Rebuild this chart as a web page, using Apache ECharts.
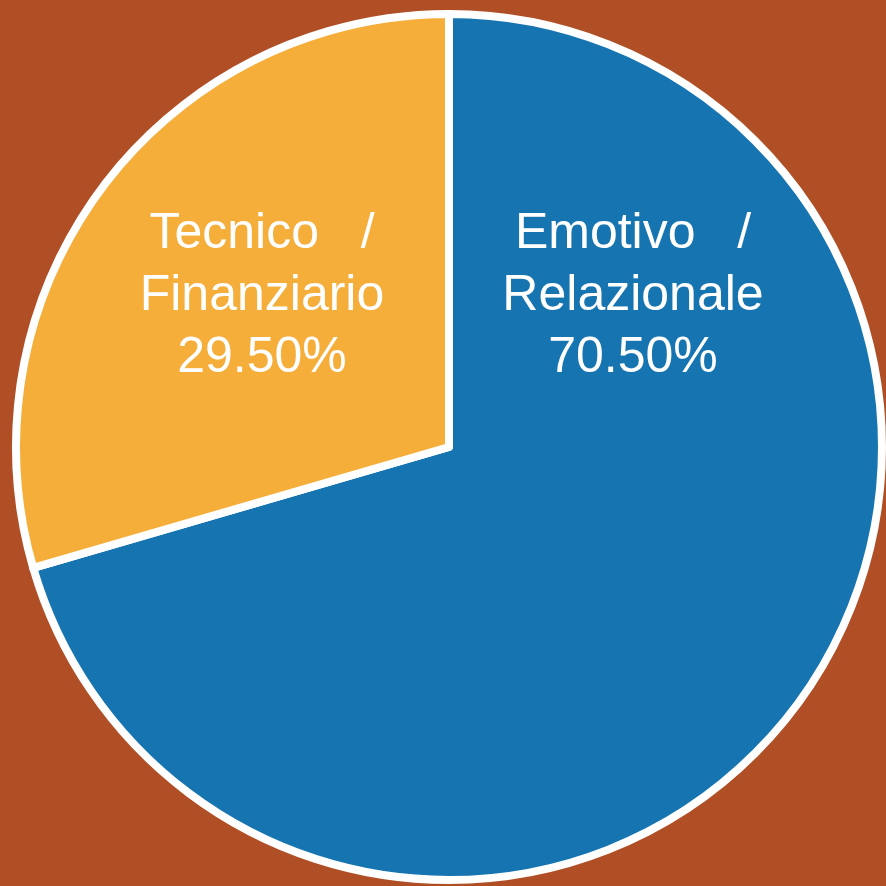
<!DOCTYPE html>
<html lang="it" style="height: 100%">
<head>
    <meta charset="UTF-8">
    <title>Pie</title>
    <script src="https://cdn.jsdelivr.net/npm/echarts@6/dist/echarts.min.js"></script>
</head>
<body style="height: 100%; margin: 0; background: #B04F26">
<div id="container" style="width: 886px; height: 886px"></div>
<script type="text/javascript">
    // dati
    var categories = ['Emotivo   /\nRelazionale', 'Tecnico   /\nFinanziario'];
    var values = [70.5, 29.5];
    var colors = ['#1674B0', '#F6AE3A'];

    var dom = document.getElementById("container");
    var myChart = echarts.init(dom);

    var pieData = [];
    for (var i = 0; i < categories.length; i++) {
        pieData.push({name: categories[i], value: values[i], itemStyle: {color: colors[i]}});
    }

    // posizioni etichette
    var labelPos = [[633, 296], [262, 296]];

    var option = {
        backgroundColor: '#B04F26',
        animation: false,
        series: [{
            type: 'pie',
            center: [449, 447],
            radius: ['0%', 433],
            startAngle: 90,
            clockwise: true,
            itemStyle: {borderColor: '#ffffff', borderWidth: 8},
            label: {
                show: true,
                position: 'inside',
                color: '#ffffff',
                fontFamily: 'Liberation Sans',
                fontSize: 50,
                lineHeight: 62,
                align: 'center',
                formatter: function (p) {
                    return p.name + '\n' + p.value.toFixed(2) + '%';
                }
            },
            labelLayout: function (params) {
                var p = labelPos[params.dataIndex];
                return {x: p[0], y: p[1], align: 'center', verticalAlign: 'middle'};
            },
            emphasis: {disabled: true},
            data: pieData
        }]
    };

    if (option && typeof option === 'object') {
        myChart.setOption(option);
    }
</script>
</body>
</html>
